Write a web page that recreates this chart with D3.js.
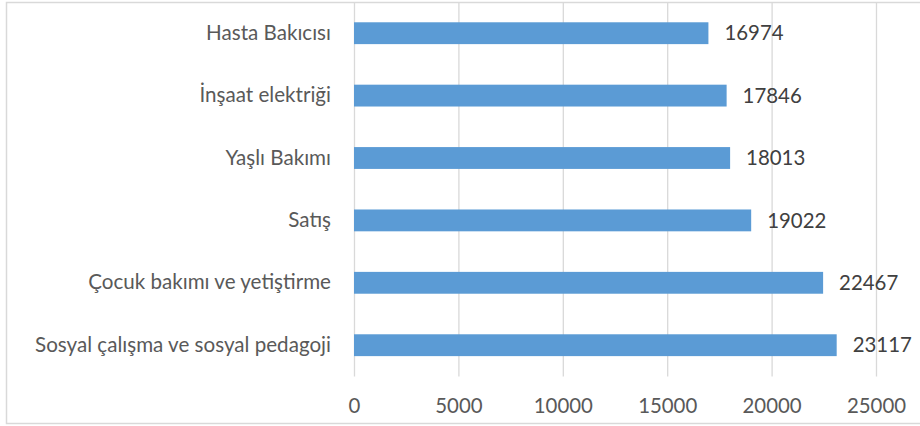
<!DOCTYPE html>
<html>
<head>
<meta charset="utf-8">
<script src="https://cdn.jsdelivr.net/npm/d3@7"></script>
<style>
  body { margin: 0; background: #fff; }
  text { font-family: Lato, "Open Sans", sans-serif; }
  .grid line { stroke: #d9d9d9; stroke-width: 1.3; }
  .bar { fill: #5b9bd5; }
</style>
</head>
<body>
<div id="container"></div>
<script>
// chart data, top to bottom
var categories = ["Hasta Bakıcısı", "İnşaat elektriği", "Yaşlı Bakımı", "Satış",
                  "Çocuk bakımı ve yetiştirme", "Sosyal çalışma ve sosyal pedagoji"];
var values = [16974, 17846, 18013, 19022, 22467, 23117];
var xTicks = [0, 5000, 10000, 15000, 20000, 25000];

var W = 920, H = 426;
var plot = {left: 354, right: 876, top: 2, bottom: 376.4};

var data = categories.map(function(c, i) { return {cat: c, val: values[i]}; });

var xScale = d3.scaleLinear()
    .domain([0, 25000])
    .range([plot.left, plot.right]);

var yScale = d3.scaleBand()
    .domain(categories)
    .range([plot.top, plot.bottom])
    .paddingInner(0.65)
    .paddingOuter(0.325);

var svg = d3.select("#container").append("svg")
    .attr("width", W)
    .attr("height", H);

svg.append("rect")
    .attr("x", 6.5).attr("y", 2.5)
    .attr("width", W + 10).attr("height", 421)
    .attr("fill", "#fff")
    .attr("stroke", "#d9d9d9")
    .attr("stroke-width", 1.5);

// vertical gridlines + tick labels
var xAxis = svg.append("g")
    .attr("class", "grid")
    .attr("transform", "translate(0," + plot.bottom + ")")
    .call(d3.axisBottom(xScale)
      .tickValues(xTicks)
      .tickFormat(d3.format("d"))
      .tickSize(-(plot.bottom - plot.top))
      .tickPadding(22));
xAxis.select(".domain").remove();
xAxis.selectAll(".tick text")
    .attr("fill", "#595959")
    .style("font-size", "20.4px");

// category labels
var yAxis = svg.append("g")
    .attr("transform", "translate(" + plot.left + ",0)")
    .call(d3.axisLeft(yScale).tickSize(0).tickPadding(23));
yAxis.select(".domain").remove();
yAxis.selectAll(".tick text")
    .attr("fill", "#595959")
    .style("font-size", "20.6px");

// bars
svg.selectAll(".bar")
    .data(data)
    .enter()
    .append("rect")
      .attr("class", "bar")
      .attr("x", xScale(0))
      .attr("y", function(d) { return yScale(d.cat); })
      .attr("width", function(d) { return xScale(d.val) - xScale(0); })
      .attr("height", yScale.bandwidth());

// value labels
svg.selectAll(".lbl")
    .data(data)
    .enter()
    .append("text")
      .attr("class", "lbl")
      .attr("x", function(d) { return xScale(d.val) + 16; })
      .attr("y", function(d) { return yScale(d.cat) + yScale.bandwidth() / 2; })
      .attr("dy", "0.35em")
      .attr("fill", "#404040")
      .style("font-size", "20.4px")
      .text(function(d) { return d.val; });
</script>
</body>
</html>
